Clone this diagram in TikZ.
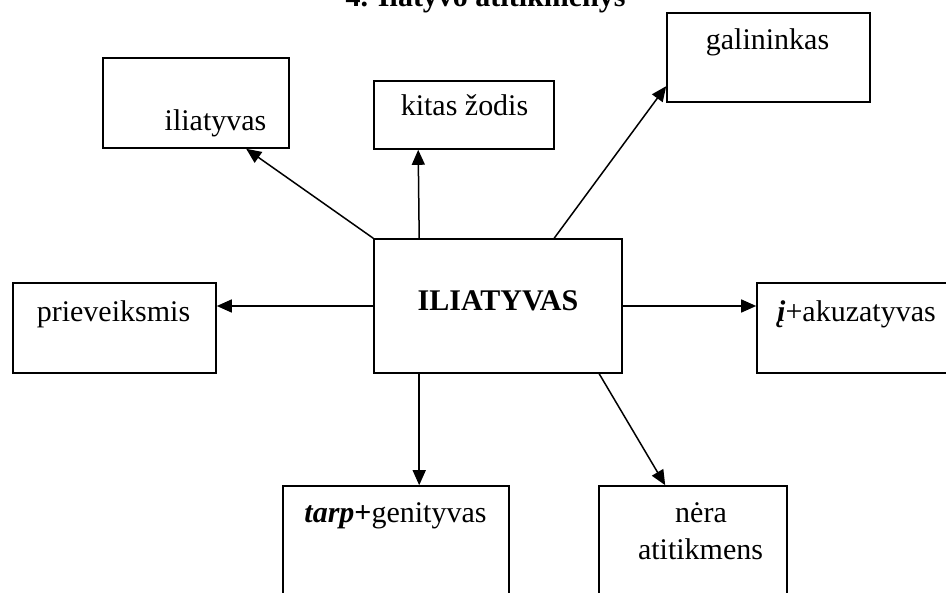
\documentclass[tikz,border=0pt]{standalone}
\usepackage{fontspec}
\setmainfont{Liberation Serif}
\usetikzlibrary{arrows.meta,calc}
\begin{document}
\begin{tikzpicture}[x=1pt,y=-1pt,
  box/.style={draw,line width=1.6pt,rectangle,inner sep=0pt},
  lbl/.style={anchor=base,inner sep=0pt,font=\fontsize{30}{36}\selectfont},
  link/.style={line width=1.5pt,-{Triangle[length=15pt,width=13pt]}}]
\useasboundingbox (0,0) rectangle (946,593);
\clip (0,0) rectangle (946,593);
\fill[white] (0,0) rectangle (946,593);

% title
\node[lbl,font=\bfseries\fontsize{30}{36}\selectfont] (title) at (485.5,7) {4. Ilatyvo atitikmenys};

% boxes
\node[box,minimum width=248pt,minimum height=134pt] (main) at (498,306) {};
\node[box,minimum width=186pt,minimum height=90pt] (ilia) at (196,103) {};
\node[box,minimum width=180pt,minimum height=68pt] (kitas) at (464,115) {};
\node[box,minimum width=203pt,minimum height=89pt] (gal) at (768.5,57.5) {};
\node[box,minimum width=203pt,minimum height=90pt] (prie) at (114.5,328) {};
\node[box,minimum width=203pt,minimum height=90pt] (akuz) at (858.5,328) {};
\node[box,minimum width=226pt,minimum height=124pt] (tarp) at (396,548) {};
\node[box,minimum width=188pt,minimum height=124pt] (nera) at (693,548) {};

% labels
\node[lbl,font=\bfseries\fontsize{30}{36}\selectfont] (main-t) at (498,311) {ILIATYVAS};
\node[lbl] (ilia-t) at (215.5,131) {iliatyvas};
\node[lbl] (kitas-t) at (464.5,116) {kitas žodis};
\node[lbl] (gal-t) at (767.5,50) {galininkas};
\node[lbl] (prie-t) at (113.5,322) {prieveiksmis};
\node[lbl] (akuz-t) at (856.5,322) {\textbf{\textit{į}}+akuzatyvas};
\node[lbl] (tarp-t) at (395.5,523) {\textbf{\textit{tarp}}\textbf{+}genityvas};
\node[lbl] (nera-t1) at (701,523) {nėra};
\node[lbl] (nera-t2) at (700.5,560) {atitikmens};

% connector end points on the box borders
\coordinate (a1) at (main.north west);
\coordinate (b1) at ($(ilia.south west)+(144,0)$);
\coordinate (a2) at ($(main.north west)+(46,0)$);
\coordinate (b2) at ($(kitas.south west)+(45,0)$);
\coordinate (a3) at ($(main.north west)+(181,0)$);
\coordinate (b3) at ($(gal.north west)+(0,74)$);
\coordinate (a4) at ($(main.south west)+(46,0)$);
\coordinate (b4) at ($(tarp.north west)+(137,0)$);
\coordinate (a5) at ($(main.south west)+(226,0)$);
\coordinate (b5) at ($(nera.north west)+(67,0)$);

% connectors
\draw[link] (a1) -- (b1);
\draw[link] (a2) -- (b2);
\draw[link] (a3) -- (b3);
\draw[link] (main.west) -- (main.west -| prie.east);
\draw[link] (main.east) -- (main.east -| akuz.west);
\draw[link] (a4) -- (b4);
\draw[link] (a5) -- (b5);
\end{tikzpicture}
\end{document}
